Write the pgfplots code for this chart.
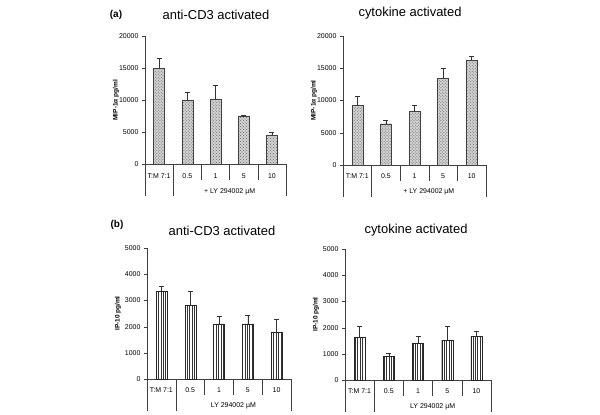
\documentclass[border=0pt]{standalone}
\usepackage{pgfplots}
\pgfplotsset{compat=1.18}
\usepackage{pgfplotstable}
\usetikzlibrary{patterns,patterns.meta}
\usepackage{fontspec}
\setmainfont{Liberation Sans}

\pgfplotstableread{
x y e
0 15000 1500
1 10000 1300
2 10200 2200
3 7500 100
4 4600 400
}\aCD
\pgfplotstableread{
x y e
0 9300 1300
1 6400 500
2 8300 1000
3 13500 1500
4 16200 600
}\aCyt
\pgfplotstableread{
x y e
0 3350 200
1 2800 550
2 2100 280
3 2100 350
4 1800 480
}\bCD
\pgfplotstableread{
x y e
0 1620 440
1 890 150
2 1400 260
3 1520 540
4 1670 190
}\bCyt

\pgfplotsset{
  chart/.style={
    scale only axis,
    anchor=south west,
    axis x line=bottom, axis y line=left,
    axis line style={-, black!75},
    xmin=-0.5, xmax=4.5, ymin=0,
    xtick={0,...,4}, xticklabels={T:M 7:1,0.5,1,5,10},
    xticklabel shift=2.5bp,
    major x tick style={draw=none},
    ytick pos=left, tick align=outside, major tick length=3bp,
    y tick style={black!75},
    tick label style={font=\fontsize{7}{8}\selectfont},
    /pgf/number format/assume math mode=true,
    /pgf/number format/1000 sep={},
    scaled y ticks=false,
    ybar, bar width=11bp,
    clip=false,
    error bars/y dir=plus, error bars/y explicit,
    error bars/error bar style={black!80, line width=0.5pt},
    error bars/error mark options={rotate=90, mark size=2.5bp, black!80},
  },
}
\newcommand{\seps}[2]{%
  \draw[black!75] (axis cs:-0.5,0) -- ++(0bp,-32bp);
  \draw[black!75] (axis cs:0.5,0) -- ++(0bp,-32bp);
  \draw[black!75] (axis cs:4.5,0) -- ++(0bp,-32bp);
  \draw[black!75] (axis cs:1.5,0) -- ++(0bp,-16bp);
  \draw[black!75] (axis cs:2.5,0) -- ++(0bp,-16bp);
  \draw[black!75] (axis cs:3.5,0) -- ++(0bp,-16bp);
  \node[font=\fontsize{7}{8}\selectfont] at (axis cs:2.5,0) [yshift=-27bp] {#1};
  \node[font=\bfseries\fontsize{6.5}{7}\selectfont, rotate=90] at ([xshift=-29bp]rel axis cs:0,0.5) {#2};
}

\begin{document}
\begin{tikzpicture}
\path (0,0) rectangle (600bp,415bp);

\node[font=\bfseries\fontsize{10}{11}\selectfont] at (116bp,400bp) {(a)};
\node[font=\bfseries\fontsize{10}{11}\selectfont] at (117bp,190bp) {(b)};
\node[font=\fontsize{13}{15}\selectfont] at (216bp,400bp) {anti-CD3 activated};
\node[font=\fontsize{13}{15}\selectfont] at (410bp,402bp) {cytokine activated};
\node[font=\fontsize{13}{15}\selectfont] at (222bp,184bp) {anti-CD3 activated};
\node[font=\fontsize{13}{15}\selectfont] at (416bp,185bp) {cytokine activated};

% (a) left
\begin{axis}[chart, at={(145bp,250.5bp)}, width=141bp, height=128.5bp,
  ymax=20000, ytick={0,5000,...,20000}]
\addplot[draw=black!75, fill=black!18, postaction={pattern=crosshatch dots, pattern color=black!60}]
  table[x=x, y=y, y error=e]{\aCD};
\seps{+ LY 294002 µM}{MIP-1α pg/ml}
\end{axis}

% (a) right
\begin{axis}[chart, at={(343bp,250bp)}, width=143bp, height=129bp,
  ymax=20000, ytick={0,5000,...,20000}]
\addplot[draw=black!75, fill=black!18, postaction={pattern=crosshatch dots, pattern color=black!60}]
  table[x=x, y=y, y error=e]{\aCyt};
\seps{+ LY 294002 µM}{MIP-1α pg/ml}
\end{axis}

% (b) left
\begin{axis}[chart, at={(147bp,36bp)}, width=144bp, height=131bp,
  ymax=5000, ytick={0,1000,...,5000}]
\addplot[draw=black!85, pattern={Lines[angle=90,distance=2.4bp,line width=0.6bp]}, pattern color=black!80]
  table[x=x, y=y, y error=e]{\bCD};
\seps{LY 294002 µM}{IP-10 pg/ml}
\end{axis}

% (b) right
\begin{axis}[chart, at={(345bp,35bp)}, width=146bp, height=131bp,
  ymax=5000, ytick={0,1000,...,5000}]
\addplot[draw=black!85, pattern={Lines[angle=90,distance=2.4bp,line width=0.6bp]}, pattern color=black!80]
  table[x=x, y=y, y error=e]{\bCyt};
\seps{LY 294002 µM}{IP-10 pg/ml}
\end{axis}
\end{tikzpicture}
\end{document}
